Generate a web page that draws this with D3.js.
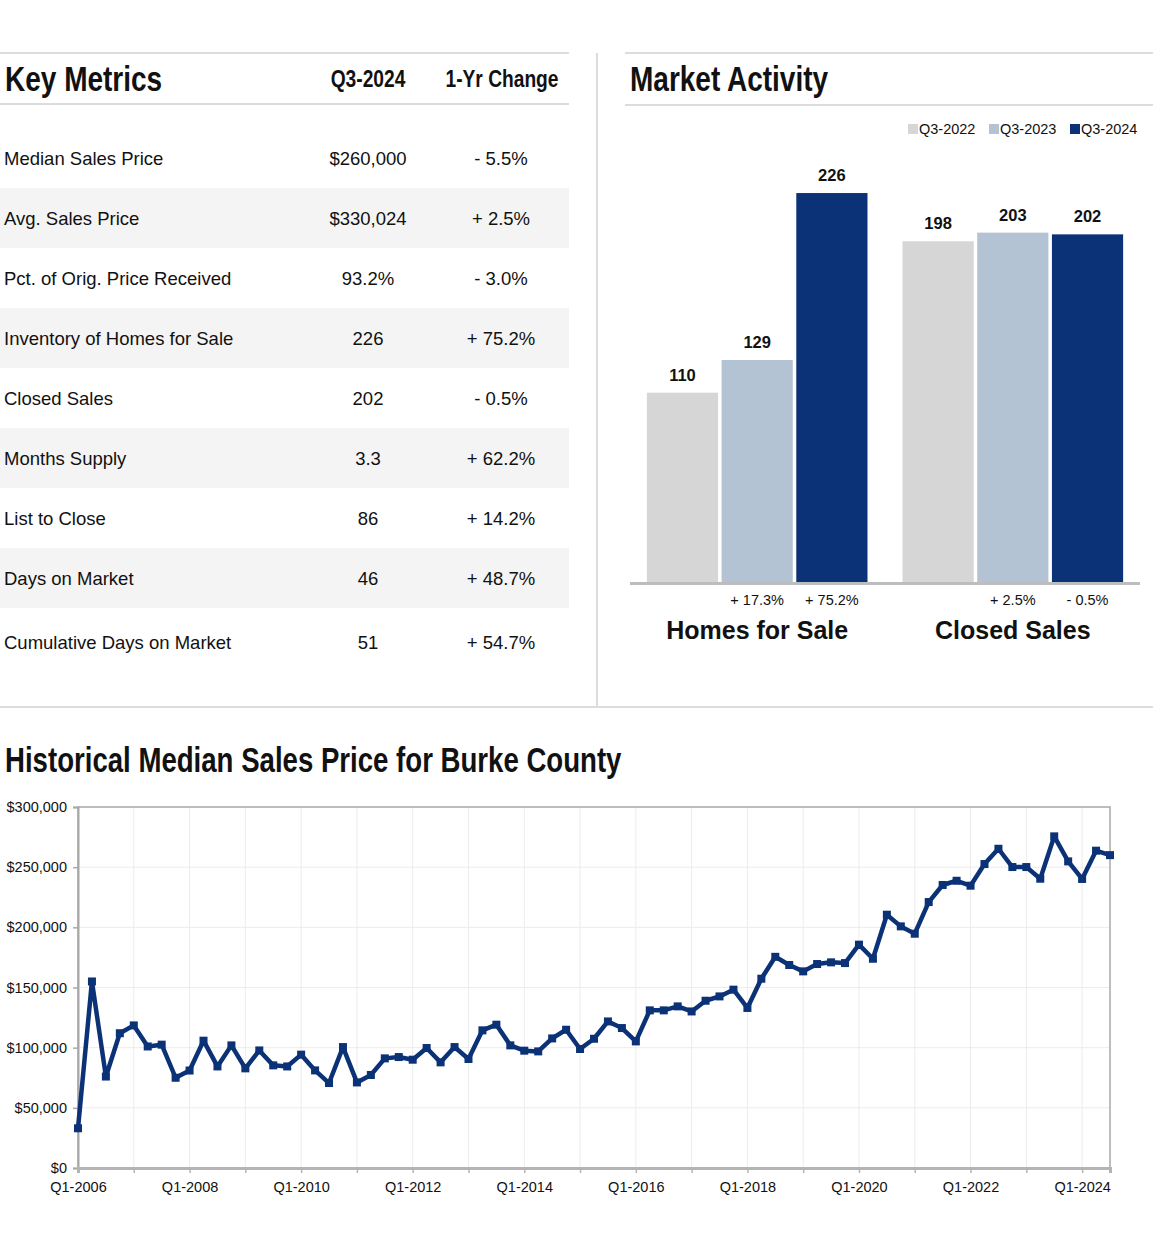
<!DOCTYPE html>
<html>
<head>
<meta charset="utf-8">
<title>Burke County Q3-2024</title>
<script src="https://d3js.org/d3.v7.min.js"></script>
<style>
  body { margin: 0; background: #fff; }
  text { font-family: "Liberation Sans", Arial, sans-serif; fill: #111; }
  .cond { font-family: "Liberation Sans", Arial, sans-serif; font-weight: bold; }
  .rule { stroke: #dcdcdc; stroke-width: 2; }
</style>
</head>
<body>
<svg id="chart" width="1153" height="1243"></svg>
<script>
// ---- key metrics table ----
var metricNames = ["Median Sales Price", "Avg. Sales Price", "Pct. of Orig. Price Received",
  "Inventory of Homes for Sale", "Closed Sales", "Months Supply", "List to Close",
  "Days on Market", "Cumulative Days on Market"];
var metricValues = ["$260,000", "$330,024", "93.2%", "226", "202", "3.3", "86", "46", "51"];
var metricChanges = ["- 5.5%", "+ 2.5%", "- 3.0%", "+ 75.2%", "- 0.5%", "+ 62.2%", "+ 14.2%", "+ 48.7%", "+ 54.7%"];

// ---- market activity bars ----
var barGroups = ["Homes for Sale", "Closed Sales"];
var barYears = ["Q3-2022", "Q3-2023", "Q3-2024"];
var homesForSale = [110, 129, 226];
var closedSales = [198, 203, 202];
var homesChange = ["", "+ 17.3%", "+ 75.2%"];
var closedChange = ["", "+ 2.5%", "- 0.5%"];
var barColors = ["#d6d6d6", "#b3c3d4", "#0b3276"];

// ---- historical median price, Q1-2006 .. Q3-2024 ----
var medianPrice = [33000, 155000, 76000, 112000, 118500, 101000, 102500, 75000,
  81000, 105800, 84400, 101900, 82800, 97700, 85300, 84400,
  94200, 81100, 70600, 100500, 71100, 77300, 91100, 92200,
  90000, 99700, 87800, 100500, 90600, 114400, 119100, 101900,
  97500, 96900, 107700, 114900, 98900, 107400, 121800, 116300,
  105200, 131000, 131000, 134300, 130100, 139000, 142600, 148200,
  133000, 157300, 175500, 168700, 163400, 169500, 170900, 170300,
  185600, 173900, 210500, 200800, 194700, 221000, 235200, 238700,
  234600, 252600, 265300, 250100, 250100, 240400, 275600, 254800,
  240200, 263700, 260000];
var priceTicks = [0, 50000, 100000, 150000, 200000, 250000, 300000];
var quarterLabels = [];
for (var yr = 2006; yr <= 2024; yr++) {
  for (var q = 1; q <= 4; q++) quarterLabels.push("Q" + q + "-" + yr);
}
quarterLabels = quarterLabels.slice(0, medianPrice.length);

var svg = d3.select("#chart");

// condensed bold heading: no narrow face installed, so squeeze the bold sans
function heading(parent, x, y, size, txt, anchor) {
  return parent.append("text").attr("class", "cond")
    .attr("transform", "translate(" + x + "," + y + ") scale(0.8,1)")
    .attr("text-anchor", anchor || "start")
    .style("font-size", size + "px").text(txt);
}

// ================= panel rules =================
svg.append("line").attr("class", "rule").attr("x1", 0).attr("x2", 569).attr("y1", 53).attr("y2", 53);
svg.append("line").attr("class", "rule").attr("x1", 0).attr("x2", 569).attr("y1", 104).attr("y2", 104);
svg.append("line").attr("class", "rule").attr("x1", 625).attr("x2", 1153).attr("y1", 53).attr("y2", 53);
svg.append("line").attr("class", "rule").attr("x1", 625).attr("x2", 1153).attr("y1", 105).attr("y2", 105);
svg.append("line").attr("class", "rule").attr("x1", 597).attr("x2", 597).attr("y1", 53).attr("y2", 707);
svg.append("line").attr("class", "rule").attr("x1", 0).attr("x2", 1153).attr("y1", 707).attr("y2", 707);

// ================= key metrics table =================
var table = svg.append("g");
heading(table, 5, 91, 35, "Key Metrics");
heading(table, 368, 87, 24, "Q3-2024", "middle");
heading(table, 502, 87, 24, "1-Yr Change", "middle");

var rowY = d3.scaleBand().domain(d3.range(metricNames.length)).range([128, 128 + 60 * metricNames.length]);

var rows = table.selectAll("g.row").data(metricNames).join("g")
  .attr("class", "row")
  .attr("transform", function (d, i) { return "translate(0," + rowY(i) + ")"; });

rows.filter(function (d, i) { return i % 2 === 1; })
  .append("rect").attr("x", 0).attr("width", 569).attr("height", rowY.bandwidth()).attr("fill", "#f4f4f4");

var rowText = function (d, i) { return rowY.bandwidth() / 2 + 6.5 + (i === metricNames.length - 1 ? 4 : 0); };
rows.append("text").attr("x", 4).attr("y", rowText)
  .style("font-size", "18.5px").text(function (d) { return d; });
rows.append("text").attr("x", 368).attr("y", rowText).attr("text-anchor", "middle")
  .style("font-size", "18.5px").text(function (d, i) { return metricValues[i]; });
rows.append("text").attr("x", 501).attr("y", rowText).attr("text-anchor", "middle")
  .style("font-size", "18.5px").text(function (d, i) { return metricChanges[i]; });

// ================= market activity =================
var act = svg.append("g");
heading(act, 630, 91, 35, "Market Activity");

// legend
var legX = d3.scalePoint().domain(barYears).range([908, 1070]);
var leg = act.selectAll("g.leg").data(barYears).join("g").attr("class", "leg")
  .attr("transform", function (d) { return "translate(" + legX(d) + ",124)"; });
leg.append("rect").attr("width", 10).attr("height", 10).attr("fill", function (d, i) { return barColors[i]; });
leg.append("text").attr("x", 11).attr("y", 10).style("font-size", "14.5px").text(function (d) { return d; });

var barBase = 582;
var x0 = d3.scaleBand().domain(barGroups).range([630, 1140]).paddingInner(0.137).paddingOuter(0.066);
var x1 = d3.scaleBand().domain(barYears).range([0, x0.bandwidth()]).paddingInner(0.047);
var yBar = d3.scaleLinear().domain([0, 240]).range([barBase, barBase - 240 * 1.721]);

var groupData = [
  { name: barGroups[0], values: homesForSale, changes: homesChange },
  { name: barGroups[1], values: closedSales, changes: closedChange }
];

var grp = act.selectAll("g.grp").data(groupData).join("g").attr("class", "grp")
  .attr("transform", function (d) { return "translate(" + x0(d.name) + ",0)"; });

grp.selectAll("rect").data(function (d) { return d.values; }).join("rect")
  .attr("x", function (d, i) { return x1(barYears[i]); })
  .attr("width", x1.bandwidth())
  .attr("y", function (d) { return yBar(d); })
  .attr("height", function (d) { return barBase - yBar(d); })
  .attr("fill", function (d, i) { return barColors[i]; });

grp.selectAll("text.val").data(function (d) { return d.values; }).join("text").attr("class", "val")
  .attr("x", function (d, i) { return x1(barYears[i]) + x1.bandwidth() / 2; })
  .attr("y", function (d) { return yBar(d) - 12; })
  .attr("text-anchor", "middle").style("font-size", "16.5px").style("font-weight", "bold")
  .text(function (d) { return d; });

grp.selectAll("text.chg").data(function (d) { return d.changes; }).join("text").attr("class", "chg")
  .attr("x", function (d, i) { return x1(barYears[i]) + x1.bandwidth() / 2; })
  .attr("y", 605)
  .attr("text-anchor", "middle").style("font-size", "14.5px")
  .text(function (d) { return d; });

grp.append("text")
  .attr("x", x0.bandwidth() / 2)
  .attr("y", 639)
  .attr("text-anchor", "middle").style("font-size", "25px").style("font-weight", "bold")
  .text(function (d) { return d.name; });

act.append("line").attr("x1", 630).attr("x2", 1140).attr("y1", barBase + 1.5).attr("y2", barBase + 1.5)
  .attr("stroke", "#bdbdbd").attr("stroke-width", 3);

// ================= historical median sales price =================
var hist = svg.append("g");
heading(hist, 5, 772, 34.5, "Historical Median Sales Price for Burke County");

var xL = d3.scaleLinear().domain([0, medianPrice.length - 1]).range([78, 1110]);
var yL = d3.scaleLinear().domain([0, 300000]).range([1168, 807]);

var yearIdx = d3.range(0, medianPrice.length, 4);
var labelIdx = d3.range(0, medianPrice.length, 8);

// grid
hist.append("g").selectAll("line").data(priceTicks.slice(1, -1)).join("line")
  .attr("x1", 78).attr("x2", 1110).attr("y1", function (d) { return yL(d); }).attr("y2", function (d) { return yL(d); })
  .attr("stroke", "#ececec").attr("stroke-width", 1);
hist.append("g").selectAll("line").data(yearIdx.slice(1)).join("line")
  .attr("x1", function (d) { return xL(d); }).attr("x2", function (d) { return xL(d); })
  .attr("y1", 807).attr("y2", 1168)
  .attr("stroke", "#ececec").attr("stroke-width", 1);

// frame
hist.append("rect").attr("x", 78).attr("y", 807).attr("width", 1110 - 78).attr("height", 1168 - 807)
  .attr("fill", "none").attr("stroke", "#a8a8a8").attr("stroke-width", 1.5);

// y axis
var yAxis = d3.axisLeft(yL).tickValues(priceTicks).tickSize(5).tickPadding(6)
  .tickFormat(function (d) { return "$" + d3.format(",")(d); });
var gy = hist.append("g").attr("transform", "translate(78,0)").call(yAxis);
gy.attr("font-size", null).attr("font-family", null);
gy.select(".domain").attr("stroke", "#a8a8a8").attr("stroke-width", 2);
gy.selectAll(".tick line").attr("stroke", "#a8a8a8").attr("stroke-width", 1.5);
gy.selectAll(".tick text").style("font-size", "14.5px").attr("fill", "#222");

// x axis
var xAxis = d3.axisBottom(xL).tickValues(yearIdx).tickSize(5).tickPadding(9)
  .tickFormat(function (d) { return labelIdx.indexOf(d) >= 0 ? quarterLabels[d] : ""; });
var gx = hist.append("g").attr("transform", "translate(0,1168)").call(xAxis);
gx.attr("font-size", null).attr("font-family", null);
gx.select(".domain").attr("stroke", "#b4b4b4").attr("stroke-width", 3);
gx.selectAll(".tick line").attr("stroke", "#b4b4b4").attr("stroke-width", 1.5);
gx.selectAll(".tick text").style("font-size", "14.5px").attr("fill", "#222");

// line + markers
var line = d3.line().x(function (d, i) { return xL(i); }).y(function (d) { return yL(d); });
hist.append("path").datum(medianPrice)
  .attr("fill", "none").attr("stroke", "#0b3276").attr("stroke-width", 4.5)
  .attr("stroke-linejoin", "round").attr("d", line);
hist.append("g").selectAll("rect").data(medianPrice).join("rect")
  .attr("x", function (d, i) { return xL(i) - 4; })
  .attr("y", function (d) { return yL(d) - 4; })
  .attr("width", 8).attr("height", 8).attr("fill", "#0b3276");
</script>
</body>
</html>
